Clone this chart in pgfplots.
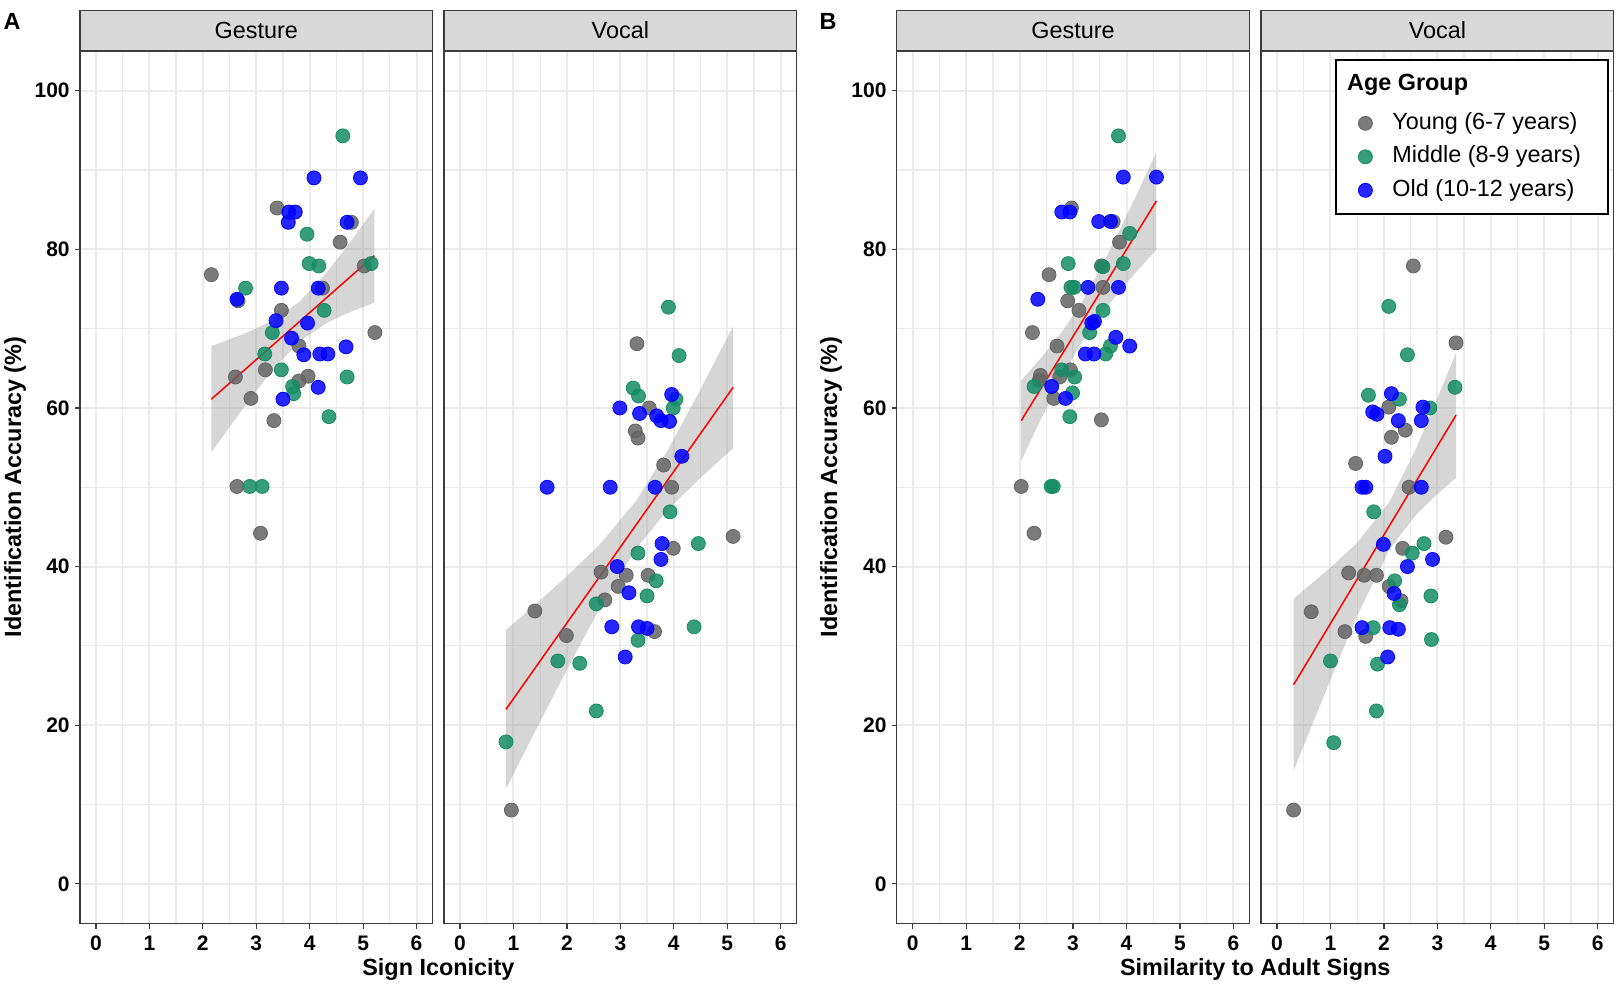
\documentclass[border=0pt]{standalone}
\usepackage{fontspec}
\setmainfont{Liberation Sans}
\usepackage{pgfplots}
\pgfplotsset{compat=1.18}

\definecolor{ptgrey}{RGB}{100,100,100}
\definecolor{ptgreen}{RGB}{20,140,100}
\definecolor{ptblue}{RGB}{0,0,255}
\definecolor{gridgrey}{RGB}{235,235,235}
\definecolor{framegrey}{RGB}{60,60,60}
\definecolor{stripgrey}{RGB}{217,217,217}
\definecolor{bandgrey}{RGB}{153,153,153}

\newcommand\labfont{\fontsize{11.7}{14}\selectfont}

\pgfplotsset{
  panel/.style={
    scale only axis, width=176.35pt, height=436.25pt,
    xmin=-0.3, xmax=6.3, ymin=-5, ymax=105,
    xtick={0,1,...,6}, ytick={0,20,...,100},
    minor xtick={0.5,1.5,...,5.5}, minor ytick={10,30,...,90},
    grid=both,
    major grid style={draw=gridgrey, line width=1pt},
    minor grid style={draw=gridgrey, line width=0.6pt},
    axis line style={draw=framegrey, line width=0.7pt},
    tick align=outside, major tick length=2.6pt, minor tick length=0pt,
    tick style={draw=framegrey, line width=0.6pt},
    xtick pos=bottom, ytick pos=left,
    /pgf/number format/assume math mode=true,
    ticklabel style={font=\bfseries\fontsize{10.5}{12}\selectfont, text=black},
    yticklabel style={xshift=1pt},
  },
  noy/.style={yticklabels={}, y tick style={draw=none}},
  pts/.style={only marks, mark=*, color=#1, mark size=3.5pt,
    mark options={draw=none, fill=#1, fill opacity=0.85}},
  band/.style={fill=bandgrey, fill opacity=0.4, draw=none, forget plot},
  fit/.style={red, line width=0.75pt, forget plot},
}

\begin{document}
\begin{tikzpicture}
\useasboundingbox (0,0) rectangle (808.5pt,492.5pt);

% ---------- A: Gesture ----------
\begin{axis}[panel, at={(39.95pt,30.75pt)}, anchor=south west]
\addplot[pts=ptgrey] coordinates {(3.39,85.2) (4.78,83.4) (4.57,80.9) (5.02,77.9) (2.16,76.8) (4.24,75.1) (2.66,73.5) (3.47,72.3) (5.22,69.5) (3.80,67.8) (2.61,63.9) (3.17,64.8) (3.97,64.0) (3.80,63.4) (2.90,61.2) (3.33,58.4) (2.64,50.1) (3.08,44.2)};
\addplot[pts=ptgreen] coordinates {(4.62,94.3) (3.95,81.9) (3.99,78.2) (4.17,77.9) (5.15,78.2) (2.80,75.1) (4.27,72.3) (3.30,69.5) (3.16,66.8) (3.47,64.8) (4.70,63.9) (3.68,62.7) (3.70,61.8) (4.36,58.9) (2.88,50.1) (3.11,50.1)};
\addplot[pts=ptblue] coordinates {(4.08,89.0) (4.95,89.0) (3.61,84.7) (3.73,84.7) (3.60,83.4) (4.70,83.4) (3.47,75.1) (4.16,75.1) (2.64,73.7) (3.37,71.0) (3.96,70.7) (3.66,68.8) (3.89,66.7) (4.19,66.8) (4.34,66.8) (4.68,67.7) (4.16,62.6) (3.50,61.1)};
\addplot[band] coordinates {(2.16,67.80) (2.5,68.65) (2.9,69.72) (3.3,71.00) (3.8,73.33) (4.3,76.93) (4.7,80.39) (5.21,85.10) (5.21,73.28) (4.7,71.93) (4.3,70.65) (3.8,68.33) (3.3,64.72) (2.9,61.26) (2.5,57.59) (2.16,54.40)} -- cycle;
\addplot[fit] coordinates {(2.16,61.1) (5.21,79.2)};
\end{axis}

% ---------- A: Vocal ----------
\begin{axis}[panel, noy, at={(222.0pt,30.75pt)}, anchor=south west]
\addplot[pts=ptgrey] coordinates {(3.31,68.1) (3.54,60.0) (3.28,57.1) (3.33,56.2) (3.81,52.8) (3.96,50.0) (5.11,43.8) (3.99,42.3) (2.64,39.3) (3.11,38.9) (3.52,38.9) (2.96,37.5) (2.71,35.8) (1.40,34.4) (3.64,31.8) (1.99,31.3) (0.96,9.3)};
\addplot[pts=ptgreen] coordinates {(3.90,72.7) (4.10,66.6) (3.24,62.5) (3.34,61.5) (4.04,61.1) (3.99,60.0) (3.93,46.9) (4.46,42.9) (3.33,41.7) (3.67,38.2) (3.50,36.3) (2.55,35.3) (4.38,32.4) (3.33,30.7) (1.83,28.1) (2.24,27.8) (2.55,21.8) (0.86,17.9)};
\addplot[pts=ptblue] coordinates {(3.96,61.7) (2.99,60.0) (3.36,59.3) (3.68,59.0) (3.76,58.4) (3.92,58.3) (4.15,53.9) (1.63,50.0) (2.81,50.0) (3.65,50.0) (3.78,42.9) (3.76,40.9) (2.94,40.0) (3.16,36.7) (2.84,32.4) (3.34,32.4) (3.50,32.2) (3.09,28.6)};
\addplot[band] coordinates {(0.86,32.0) (1.4,35.17) (2.0,38.79) (2.6,42.68) (3.3,48.31) (3.9,54.85) (4.5,62.34) (5.11,70.29) (5.11,54.91) (4.5,51.20) (3.9,47.23) (3.3,42.31) (2.6,34.56) (2.0,26.99) (1.4,19.15) (0.86,12.0)} -- cycle;
\addplot[fit] coordinates {(0.86,22.0) (5.11,62.6)};
\end{axis}

% ---------- B: Gesture ----------
\begin{axis}[panel, at={(448.35pt,30.75pt)}, anchor=south west]
\addplot[pts=ptgrey] coordinates {(2.97,85.2) (3.75,83.5) (3.87,80.9) (3.53,77.9) (2.55,76.8) (3.56,75.2) (2.90,73.5) (3.11,72.3) (2.24,69.5) (2.70,67.8) (2.39,64.1) (2.95,64.8) (2.75,63.9) (2.37,63.5) (2.64,61.2) (3.53,58.5) (2.03,50.1) (2.27,44.2)};
\addplot[pts=ptgreen] coordinates {(3.85,94.3) (4.06,82.0) (2.91,78.2) (3.56,77.8) (3.94,78.2) (2.96,75.2) (3.02,75.2) (3.56,72.3) (3.31,69.5) (3.70,67.8) (3.61,66.8) (2.79,64.8) (3.03,63.9) (2.27,62.7) (2.99,61.9) (2.94,58.9) (2.59,50.1) (2.63,50.1)};
\addplot[pts=ptblue] coordinates {(3.94,89.1) (4.56,89.1) (2.79,84.7) (2.94,84.7) (3.48,83.5) (3.70,83.5) (3.28,75.2) (3.85,75.2) (2.34,73.7) (3.40,70.9) (3.35,70.7) (3.80,68.9) (4.06,67.8) (3.23,66.8) (3.39,66.8) (2.60,62.7) (2.86,61.2)};
\addplot[band] coordinates {(2.03,63.45) (2.4,66.30) (2.8,69.67) (3.14,73.05) (3.5,77.37) (3.9,82.78) (4.2,87.04) (4.56,92.25) (4.56,79.95) (4.2,77.28) (3.9,74.96) (3.5,71.61) (3.14,68.05) (2.8,63.99) (2.4,58.60) (2.03,53.35)} -- cycle;
\addplot[fit] coordinates {(2.03,58.4) (4.56,86.1)};
\end{axis}

% ---------- B: Vocal (with legend) ----------
\begin{axis}[panel, noy, at={(630.5pt,30.75pt)}, anchor=south west,
  legend cell align=left,
  legend style={at={(0.258,0.8787)}, anchor=west, draw=none, fill=none,
    font=\labfont, row sep=3.75pt, column sep=9pt,
    nodes={inner sep=1pt, text height=8.5pt, text depth=2.5pt}},
  legend image code/.code={\draw[#1, xshift=-4.5pt] plot coordinates {(0.3cm,0cm)};}]
\draw[fill=white, draw=black, line width=1pt] (axis cs:1.104,84.39) rectangle (axis cs:6.185,103.87);
\node[anchor=west, font=\labfont\bfseries] at (axis cs:1.18,100.72) {Age Group};
\addplot[pts=ptgrey] coordinates {(2.55,77.9) (3.35,68.2) (2.09,60.1) (2.40,57.2) (2.14,56.3) (1.47,53.0) (2.47,50.0) (3.16,43.7) (2.35,42.3) (1.34,39.2) (1.63,38.9) (1.86,38.9) (2.10,37.5) (2.32,35.7) (0.64,34.3) (1.27,31.8) (1.66,31.2) (0.31,9.3)};
\addlegendentry{Young (6-7 years)}
\addplot[pts=ptgreen] coordinates {(2.09,72.8) (2.44,66.7) (3.33,62.6) (1.71,61.6) (2.29,61.1) (2.86,60.0) (1.81,46.9) (2.75,42.9) (2.53,41.7) (2.20,38.2) (2.88,36.3) (2.29,35.2) (1.80,32.3) (2.89,30.8) (1.00,28.1) (1.88,27.7) (1.86,21.8) (1.06,17.8)};
\addlegendentry{Middle (8-9 years)}
\addplot[pts=ptblue] coordinates {(2.14,61.8) (2.73,60.1) (1.79,59.5) (1.87,59.2) (2.27,58.4) (2.70,58.4) (2.02,53.9) (1.59,50.0) (1.66,50.0) (2.70,50.0) (1.99,42.8) (2.91,40.9) (2.44,40.0) (2.19,36.6) (1.59,32.3) (2.11,32.3) (2.27,32.1) (2.07,28.6)};
\addlegendentry{Old (10-12 years)}
\addplot[band] coordinates {(0.31,35.95) (0.7,38.15) (1.1,40.48) (1.5,43.01) (2.1,48.11) (2.6,54.88) (3.0,61.21) (3.35,66.96) (3.35,51.20) (3.0,49.13) (2.6,46.52) (2.1,42.11) (1.5,33.79) (1.1,27.38) (0.7,20.77) (0.31,14.25)} -- cycle;
\addplot[fit] coordinates {(0.31,25.1) (3.35,59.1)};
\end{axis}

% ---------- facet strips ----------
\foreach \L/\T in {39.95/Gesture, 222.0/Vocal, 448.35/Gesture, 630.5/Vocal} {
  \draw[fill=stripgrey, draw=framegrey, line width=0.7pt] (\L pt,467pt) rectangle ({\L pt+176.35pt},487.2pt);
  \node[font=\labfont] at ({\L pt+88.18pt},477.4pt) {\T};
}

% ---------- titles ----------
\node[font=\labfont\bfseries] at (6pt,481.6pt) {A};
\node[font=\labfont\bfseries] at (414pt,481.6pt) {B};
\node[font=\labfont\bfseries, anchor=base] at (219.2pt,4.6pt) {Sign Iconicity};
\node[font=\labfont\bfseries, anchor=base] at (627.6pt,4.6pt) {Similarity to Adult Signs};
\node[font=\labfont\bfseries, rotate=90] at (7.5pt,249pt) {Identification Accuracy (\%)};
\node[font=\labfont\bfseries, rotate=90] at (415.5pt,249pt) {Identification Accuracy (\%)};
\end{tikzpicture}
\end{document}
